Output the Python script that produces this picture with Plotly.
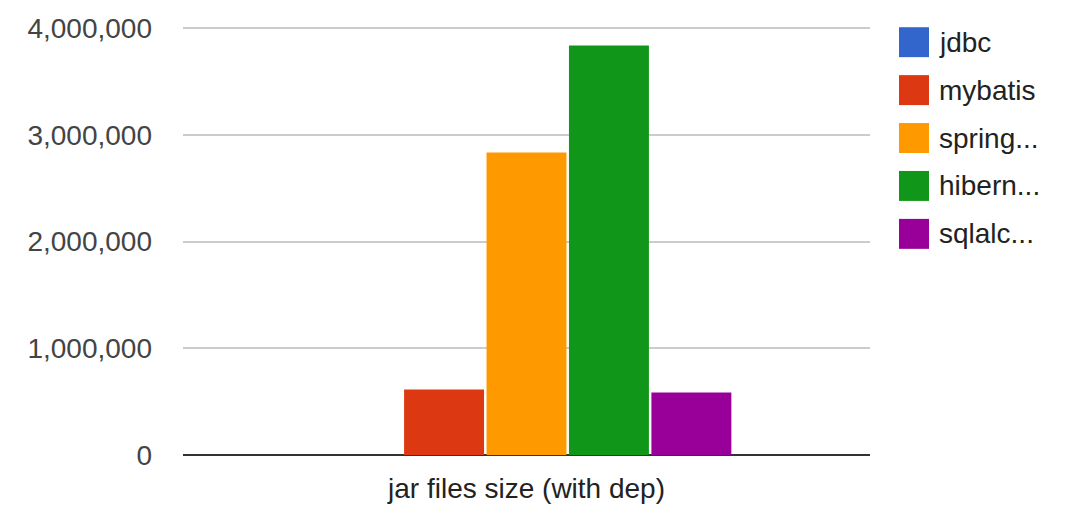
import plotly.graph_objects as go

category = ["jar files size (with dep)"]
series_names = ["jdbc", "mybatis", "spring...", "hibern...", "sqlalc..."]
series_values = [0, 613000, 2836000, 3837000, 585000]
series_colors = ["#3366cc", "#dc3912", "#ff9900", "#109618", "#990099"]
y_ticks = [0, 1000000, 2000000, 3000000, 4000000]

FONT = "Arial, Liberation Sans, sans-serif"
FS = 28

W, H = 1067, 507
Y_TOP = 4030000
PL, PR, PB = 183, 870, 455.5
PT = PB - (PB - 28) * Y_TOP / 4000000

fig = go.Figure()
for name, val, col in zip(series_names, series_values, series_colors):
    fig.add_trace(go.Bar(x=category, y=[val], name=name,
                         marker=dict(color=col, line=dict(width=0)),
                         showlegend=False))

# manual legend (Google Charts style large squares)
leg_y0 = 42
step = 48
def px(x):
    return (x - PL) / (PR - PL)
def py(y):
    return (PB - y) / (PB - PT)
for i, (name, col) in enumerate(zip(series_names, series_colors)):
    cy = leg_y0 + i * step
    fig.add_shape(type="rect", xref="paper", yref="paper",
                  x0=px(899), x1=px(929), y0=py(cy + 15), y1=py(cy - 15),
                  fillcolor=col, line=dict(width=0))
    fig.add_annotation(xref="paper", yref="paper", x=px(937), y=py(cy),
                       xanchor="left", yanchor="middle", text=name, showarrow=False,
                       font=dict(family=FONT, size=FS, color="#222222"))

fig.update_layout(
    width=W, height=H,
    margin=dict(l=PL, r=W - PR, t=PT, b=H - PB),
    plot_bgcolor="white", paper_bgcolor="white",
    barmode="group", bargap=0.4, bargroupgap=0.03,
    font=dict(family=FONT, size=FS, color="#444444"),
    xaxis=dict(showgrid=False, ticks="", tickfont=dict(color="#222222", size=FS),
               ticklabelstandoff=14, showline=False, automargin=False),
    yaxis=dict(range=[0, Y_TOP], tickvals=y_ticks, tickformat=",d",
               showgrid=True, gridcolor="#cccccc", gridwidth=2,
               zeroline=True, zerolinecolor="#333333", zerolinewidth=2,
               ticks="", ticklabelstandoff=30, tickfont=dict(color="#444444", size=FS),
               automargin=False),
)

fig.write_html("out.html", config={"displayModeBar": False},
               post_script="document.body.style.margin='0px';document.body.style.overflow='hidden';")
